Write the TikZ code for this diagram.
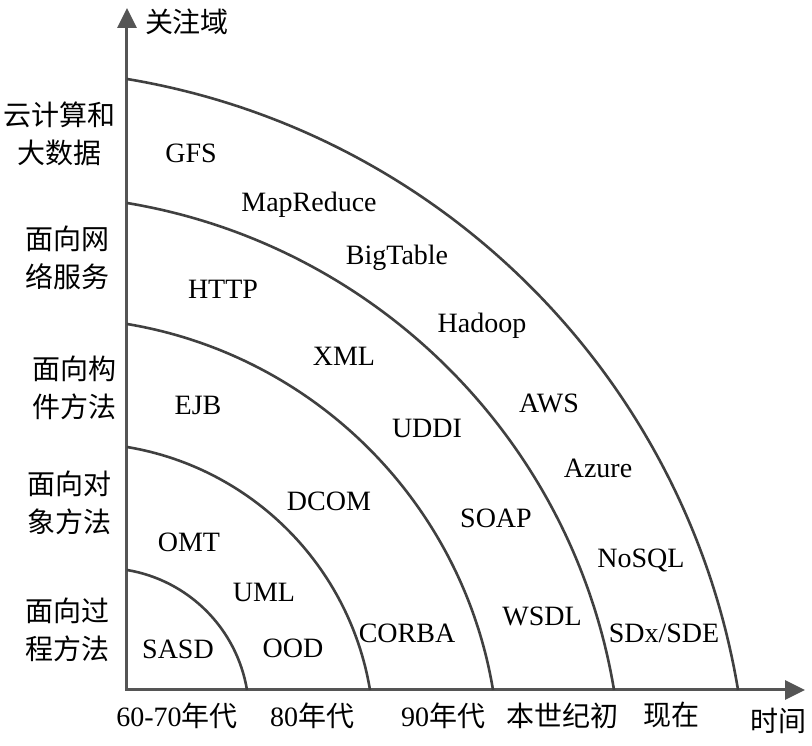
\documentclass[tikz,border=0pt]{standalone}
\usepackage{fontspec}
\setmainfont{Liberation Serif}
\newfontfamily\cjk{Noto Sans CJK SC}
\usetikzlibrary{arrows.meta}
\definecolor{axisgray}{HTML}{555555}
\definecolor{arcgray}{HTML}{404040}

\begin{document}
\begin{tikzpicture}[x=1pt, y=1pt,
    axis/.style={draw=axisgray, line width=3pt, line cap=rect, -{Triangle[length=20pt,width=19pt]}},
    band/.style={draw=arcgray, line width=2.6pt},
    tech/.style={anchor=base, inner sep=0pt, font=\fontsize{28}{34}\selectfont},
    era/.style={inner sep=0pt, font=\fontsize{28}{34}\selectfont},
    field/.style={align=center, inner sep=0pt, font=\fontsize{28}{38}\selectfont\cjk}]
  \useasboundingbox (-127,-56) rectangle (685,690);

  % axes
  \coordinate (o) at (0,0);
  \coordinate (ytop) at (0,682);
  \coordinate (xend) at (678,0);
  \draw[axis] (o) -- (ytop);
  \draw[axis] (o) -- (xend);
  \node[era, font=\fontsize{28}{34}\selectfont\cjk] (yname) at (60,668) {关注域};
  \node[era, font=\fontsize{28}{34}\selectfont\cjk] (xname) at (651,-31) {时间};

  % bands
  \foreach \r in {120,243,366,487,611}
    \draw[band] (0,\r) arc[start angle=80.54, end angle=9.46, radius=1.2166*\r pt];

  % fields of attention
  \node[field] (f5) at (-67,556) {云计算和\\大数据};
  \node[field] (f4) at (-59,432) {面向网\\络服务};
  \node[field] (f3) at (-52,302) {面向构\\件方法};
  \node[field] (f2) at (-57,187) {面向对\\象方法};
  \node[field] (f1) at (-59,60) {面向过\\程方法};

  % eras
  \node[era] (e1) at (50,-26) {60-70{\cjk 年代}};
  \node[era] (e2) at (185,-26) {80{\cjk 年代}};
  \node[era] (e3) at (316,-26) {90{\cjk 年代}};
  \node[era, font=\fontsize{28}{34}\selectfont\cjk] (e4) at (435,-26) {本世纪初};
  \node[era, font=\fontsize{28}{34}\selectfont\cjk] (e5) at (544,-25) {现在};

  % technologies
  \node[tech] (gfs) at (64,527) {GFS};
  \node[tech] (mapreduce) at (182,478) {MapReduce};
  \node[tech] (bigtable) at (270,425) {BigTable};
  \node[tech] (http) at (96,391) {HTTP};
  \node[tech] (hadoop) at (355,357) {Hadoop};
  \node[tech] (xml) at (217,324) {XML};
  \node[tech] (ejb) at (71,275) {EJB};
  \node[tech] (aws) at (422,277) {AWS};
  \node[tech] (uddi) at (300,252) {UDDI};
  \node[tech] (azure) at (471,212) {Azure};
  \node[tech] (dcom) at (202,179) {DCOM};
  \node[tech] (soap) at (369,162) {SOAP};
  \node[tech] (omt) at (62,138) {OMT};
  \node[tech] (nosql) at (514,122) {NoSQL};
  \node[tech] (uml) at (137,88) {UML};
  \node[tech] (wsdl) at (415,64) {WSDL};
  \node[tech] (corba) at (280,47) {CORBA};
  \node[tech] (sdx) at (537,47) {SDx/SDE};
  \node[tech] (sasd) at (51,31) {SASD};
  \node[tech] (ood) at (166,32) {OOD};
\end{tikzpicture}
\end{document}
